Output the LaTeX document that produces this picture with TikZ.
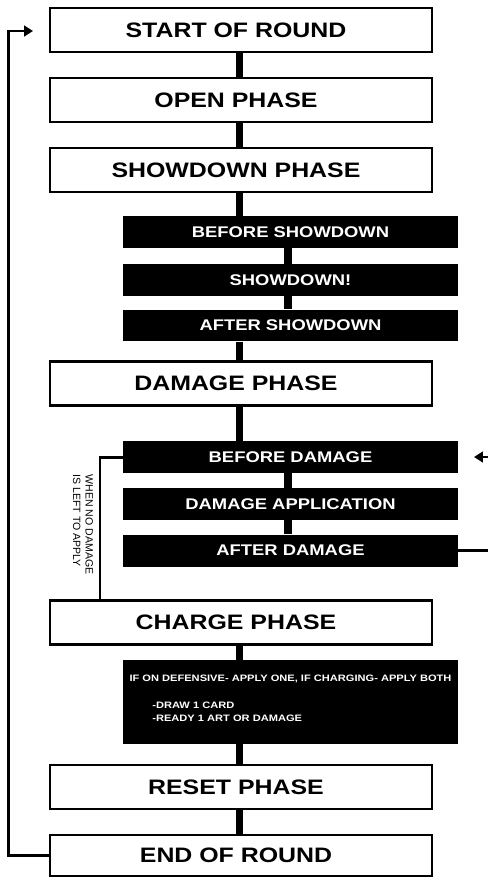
\documentclass[tikz,border=0pt]{standalone}
\usepackage{fontspec}
\setmainfont{Liberation Sans}
\newfontfamily\widebf[FakeStretch=1.19]{Liberation Sans Bold}
\usetikzlibrary{arrows.meta}
\begin{document}
\begin{tikzpicture}[x=0.569pt,y=-0.569pt,
  phase/.style={draw=black,line width=1.2pt,fill=white,minimum width=217.4pt,minimum height=25pt,inner sep=0pt,
    font=\widebf\fontsize{11.9}{14}\selectfont,execute at end node={\hspace*{5.7pt}}},
  sub/.style={fill=black,text=white,minimum width=190.6pt,minimum height=18.2pt,inner sep=0pt,
    font=\widebf\fontsize{8.8}{10}\selectfont},
  link/.style={line width=4pt},
  loopline/.style={line width=1.7pt},
  tipstyle/.style={-{Triangle[length=5pt,width=6pt]}}]
\useasboundingbox (0,0) rectangle (488,877);
\fill[white] (0,0) rectangle (488,877);
\clip (0,0) rectangle (488,877);

\coordinate (mx) at (239.5,0);
\coordinate (sx) at (288,0);
\coordinate (lx) at (8.5,0);
\coordinate (tip) at (33,31);
\coordinate (nx) at (100,0);
\coordinate (rx) at (497,0);
\coordinate (rtip) at (474,457);

\node[phase] (start) at (241,30) {START OF ROUND};
\node[phase] (open) at (241,100) {OPEN PHASE};
\node[phase] (show) at (241,170) {SHOWDOWN PHASE};
\node[sub] (bsd) at (290.5,232) {BEFORE SHOWDOWN};
\node[sub] (sd) at (290.5,280) {SHOWDOWN!};
\node[sub] (asd) at (290.5,325.5) {AFTER SHOWDOWN};
\node[phase] (dmg) at (241,383.5) {DAMAGE PHASE};
\node[sub] (bd) at (290.5,457) {BEFORE DAMAGE};
\node[sub] (da) at (290.5,504) {DAMAGE APPLICATION};
\node[sub] (ad) at (290.5,550.5) {AFTER DAMAGE};
\node[phase] (chg) at (241,622.5) {CHARGE PHASE};
\node[sub,minimum height=47.8pt,align=left,font=\widebf\fontsize{5.3}{7.4}\selectfont] (cbox) at (290.5,702)
  {IF ON DEFENSIVE- APPLY ONE, IF CHARGING- APPLY BOTH\\[8pt]\hspace*{13pt}-DRAW 1 CARD\\\hspace*{13pt}-READY 1 ART OR DAMAGE\rule[-4.6pt]{0pt}{0pt}};
\node[phase] (reset) at (241,787) {RESET PHASE};
\node[phase,minimum height=23.3pt] (end) at (241,855.5) {END OF ROUND};

\node[rotate=-90,align=left,inner sep=0pt,font=\fontsize{6}{7.1}\selectfont] (note) at (83,524.5)
  {WHEN NO DAMAGE\\IS LEFT TO APPLY};

\draw[link] (start.south -| mx) -- (open.north -| mx);
\draw[link] (open.south -| mx) -- (show.north -| mx);
\draw[link] (show.south -| mx) -- (bsd.north -| mx);
\draw[link] (bsd.south -| sx) -- (sd.north -| sx);
\draw[link] (sd.south -| sx) -- (asd.north -| sx);
\draw[link] (asd.south -| mx) -- (dmg.north -| mx);
\draw[link] (dmg.south -| mx) -- (bd.north -| mx);
\draw[link] (bd.south -| sx) -- (da.north -| sx);
\draw[link] (da.south -| sx) -- (ad.north -| sx);
\draw[link] (chg.south -| mx) -- (cbox.north -| mx);
\draw[link] (cbox.south -| mx) -- (reset.north -| mx);
\draw[link] (reset.south -| mx) -- (end.north -| mx);

\draw[loopline,tipstyle] (end.west) -- (lx |- end.west) -- (lx |- tip) -- (tip);
\draw[loopline] (bd.west) -| (nx |- chg.north);
\draw[line width=1.2pt,tipstyle] (ad.east) -- (rx |- ad.east) -- (rx |- rtip) -- (rtip);
\end{tikzpicture}
\end{document}
